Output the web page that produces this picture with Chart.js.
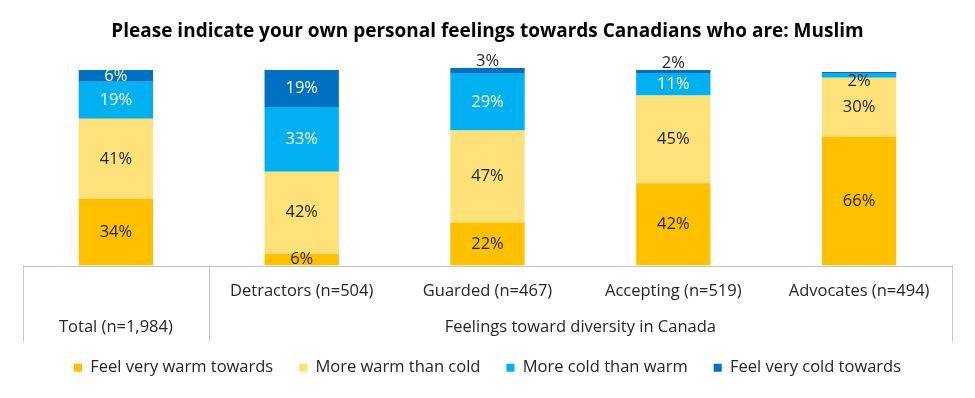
<!DOCTYPE html>
<html><head><meta charset="utf-8">
<script src="https://cdn.jsdelivr.net/npm/chart.js@4.4.1/dist/chart.umd.min.js"></script>
<style>html,body{margin:0;padding:0;background:#fff}#wrap{width:975px;height:398px;position:relative}</style>
</head><body><div id="wrap"><canvas id="c"></canvas></div>
<script>
const titleText = 'Please indicate your own personal feelings towards Canadians who are: Muslim';
const categories = ['Total (n=1,984)', 'Detractors (n=504)', 'Guarded (n=467)', 'Accepting (n=519)', 'Advocates (n=494)'];
const groupLabel = 'Feelings toward diversity in Canada';
const seriesNames = ['Feel very warm towards', 'More warm than cold', 'More cold than warm', 'Feel very cold towards'];
const veryWarm = [34, 6, 22, 42, 66];
const moreWarm = [41, 42, 47, 45, 30];
const moreCold = [19, 33, 29, 11, 2];
const veryCold = [6, 19, 3, 2, 1];
const seriesColors = ['#FFC000', '#FFE17A', '#00B0F0', '#0070C0'];
const labelColors = ['#262626', '#262626', '#FFFFFF', '#FFFFFF'];

const FONT = '"Open Sans", "Noto Sans", sans-serif';
const FS = 16.5;
const TICK_PAD = 8, LINE_H = 36;

const gridPlugin = {
  id: 'tableGrid',
  afterLayout(chart) {
    const xs = chart.scales.x;
    xs.bottom = xs.top + 90; // let the second label row draw without clipping
  },
  afterDraw(chart) {
    const ctx = chart.ctx, a = chart.chartArea, xs = chart.scales.x;
    const sep = (xs.getPixelForValue(0) + xs.getPixelForValue(1)) / 2;
    const bottom = a.bottom + 76;
    ctx.save();
    ctx.strokeStyle = '#C6C6C6';
    ctx.lineWidth = 1;
    ctx.beginPath();
    ctx.moveTo(a.left, Math.round(a.bottom) + 0.5); ctx.lineTo(a.right, Math.round(a.bottom) + 0.5);
    [a.left, sep, a.right].forEach(x => { ctx.moveTo(Math.round(x) + 0.5, a.bottom); ctx.lineTo(Math.round(x) + 0.5, bottom); });
    ctx.stroke();
    ctx.fillStyle = '#262626';
    ctx.font = FS + 'px ' + FONT;
    ctx.textAlign = 'center';
    ctx.textBaseline = 'middle';
    ctx.fillText(groupLabel, (sep + a.right) / 2, a.bottom + TICK_PAD + LINE_H * 1.5);
    ctx.restore();
  }
};

const labelPlugin = {
  id: 'segLabels',
  afterDatasetsDraw(chart) {
    const ctx = chart.ctx;
    ctx.save();
    ctx.font = FS + 'px ' + FONT;
    ctx.textAlign = 'center';
    chart.data.datasets.forEach((ds, di) => {
      const meta = chart.getDatasetMeta(di);
      meta.data.forEach((bar, i) => {
        const v = ds.data[i];
        if (v < 2) return;
        const top = Math.min(bar.y, bar.base), bot = Math.max(bar.y, bar.base);
        let y, color = labelColors[di];
        if (v <= 3 && di === 3) { y = top - 7; color = '#262626'; }
        else if (v <= 3 && di === 2) { y = bot + 4; color = '#262626'; }
        else { y = (top + bot) / 2; }
        ctx.fillStyle = color;
        ctx.textBaseline = 'middle';
        ctx.fillText(v + '%', bar.x, y);
      });
    });
    ctx.restore();
  }
};

const seriesData = [veryWarm, moreWarm, moreCold, veryCold];
new Chart(document.getElementById('c'), {
  type: 'bar',
  data: {
    labels: categories,
    datasets: seriesNames.map((n, k) => ({
      label: n, data: seriesData[k], backgroundColor: seriesColors[k],
      barPercentage: 0.4, categoryPercentage: 1
    }))
  },
  options: {
    responsive: true, maintainAspectRatio: false, animation: false,
    layout: { padding: { left: 23, right: 23, bottom: 12 } },
    scales: {
      x: {
        stacked: true,
        grid: { display: false, drawTicks: false },
        border: { display: false },
        afterFit(scale) { scale.height = 68; },
        ticks: {
          autoSkip: false, maxRotation: 0, padding: TICK_PAD,
          color: '#262626', font: { family: FONT, size: FS, lineHeight: LINE_H + 'px' },
          callback(v, i) { return i === 0 ? ['', categories[i]] : categories[i]; }
        }
      },
      y: { stacked: true, display: false, min: 0, max: 101 }
    },
    plugins: {
      title: { display: true, text: titleText, color: '#000', font: { family: FONT, size: 19, weight: 'bold', lineHeight: 1.2 }, padding: { top: 20, bottom: 25.2 } },
      legend: {
        position: 'bottom',
        labels: { boxWidth: 8, boxHeight: 8, padding: 26, color: '#262626', font: { family: FONT, size: FS } }
      },
      tooltip: { enabled: false }
    }
  },
  plugins: [gridPlugin, labelPlugin]
});
</script></body></html>
